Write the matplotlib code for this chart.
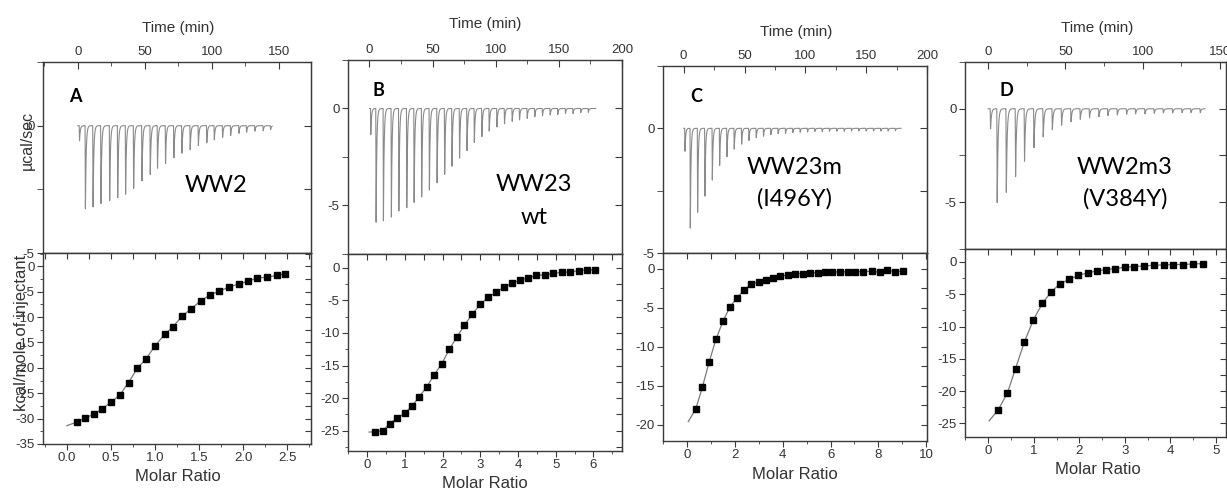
import numpy as np
import matplotlib
matplotlib.use("Agg")
import matplotlib.pyplot as plt
from matplotlib.ticker import MultipleLocator, FormatStrFormatter

# ---------------- data ----------------
# raw thermograms: injection times (min) and peak depths (µcal/sec)
inj_time_A = [1.0, 5.4, 11.1, 17.0, 23.5, 29.5, 35.4, 41.4, 47.6, 53.8, 59.2, 65.2, 71.4,
              77.4, 83.6, 89.7, 96.0, 101.6, 107.8, 113.8, 120.0, 125.7, 131.9, 138.1, 143.6]
inj_peak_A = [0.6, 3.3, 3.25, 3.1, 3.0, 2.85, 2.7, 2.5, 2.2, 1.95, 1.7, 1.5, 1.3,
              1.1, 0.95, 0.8, 0.68, 0.56, 0.47, 0.39, 0.3, 0.26, 0.22, 0.2, 0.16]

inj_time_B = [0.8, 5.0, 10.8, 17.1, 23.0, 29.3, 35.1, 41.1, 47.2, 53.3, 59.3, 65.1, 71.1, 77.0, 82.8,
              88.8, 94.6, 100.7, 106.7, 112.8, 118.6, 124.7, 130.7, 136.8, 142.9, 148.9, 155.0,
              161.0, 167.1, 173.1]
inj_peak_B = [1.37, 5.94, 5.82, 5.65, 5.48, 5.26, 5.0, 4.7, 4.33, 3.9, 3.48, 3.03, 2.62, 2.19, 1.8,
              1.46, 1.2, 0.98, 0.82, 0.68, 0.6, 0.51, 0.43, 0.38, 0.34, 0.31, 0.26, 0.26, 0.22, 0.2]

inj_time_C = [0.8, 5.2, 11.2, 17.2, 23.3, 29.3, 35.3, 41.3, 47.4, 53.4, 59.4, 65.4, 71.4, 77.4, 83.5,
              89.5, 95.5, 101.6, 107.6, 113.6, 119.6, 125.6, 131.7, 137.7, 143.7, 149.7, 155.8,
              161.8, 167.8, 173.8]
inj_peak_C = [0.95, 4.03, 3.44, 2.76, 2.08, 1.52, 1.15, 0.85, 0.65, 0.49, 0.38, 0.32, 0.26, 0.22, 0.2,
              0.17, 0.16, 0.15, 0.13, 0.13, 0.12, 0.12, 0.12, 0.11, 0.11, 0.11, 0.11, 0.11, 0.11, 0.1]

inj_time_D = [1.3, 5.6, 11.5, 17.5, 23.3, 29.4, 35.4, 41.3, 47.3, 53.4, 59.4, 65.4, 71.5, 77.3, 83.4,
              89.4, 95.2, 101.3, 107.3, 113.2, 119.2, 125.3, 131.1, 137.1]
inj_peak_D = [1.1, 5.02, 4.49, 3.72, 2.87, 2.09, 1.54, 1.15, 0.89, 0.71, 0.57, 0.48, 0.43, 0.37, 0.34,
              0.3, 0.28, 0.27, 0.25, 0.23, 0.23, 0.21, 0.21, 0.21]

run_end = {"A": 145.0, "B": 179.2, "C": 178.6, "D": 140.4}

# integrated heats: molar ratio and kcal/mole of injectant
ratio_A = [0.11, 0.21, 0.31, 0.40, 0.50, 0.60, 0.70, 0.80, 0.90, 1.00, 1.11, 1.20, 1.31, 1.41,
           1.52, 1.62, 1.73, 1.84, 1.95, 2.05, 2.16, 2.27, 2.38, 2.48]
heat_A = [-30.7, -29.9, -29.1, -28.1, -26.8, -25.4, -22.9, -20.1, -18.2, -15.7, -13.4, -12.0, -9.8,
          -8.4, -6.8, -5.7, -4.9, -4.1, -3.5, -3.0, -2.3, -2.2, -1.8, -1.5]

ratio_B = [0.20, 0.41, 0.60, 0.80, 1.00, 1.19, 1.38, 1.58, 1.77, 1.98, 2.18, 2.37, 2.58, 2.79, 3.00,
           3.21, 3.42, 3.63, 3.84, 4.05, 4.27, 4.49, 4.72, 4.94, 5.16, 5.38, 5.61, 5.82, 6.04]
heat_B = [-25.15, -25.0, -23.9, -23.0, -22.3, -21.2, -19.8, -18.25, -16.5, -14.7, -12.5, -10.7, -8.8,
          -7.1, -5.6, -4.55, -3.73, -3.0, -2.4, -1.9, -1.53, -1.18, -1.07, -0.87, -0.72, -0.66,
          -0.46, -0.36, -0.31]

ratio_C = [0.35, 0.63, 0.91, 1.20, 1.50, 1.79, 2.08, 2.39, 2.68, 2.99, 3.29, 3.59, 3.89, 4.20, 4.51,
           4.83, 5.14, 5.46, 5.77, 6.08, 6.40, 6.72, 7.03, 7.35, 7.72, 8.06, 8.38, 8.71, 9.05]
heat_C = [-18.0, -15.2, -12.0, -9.06, -6.67, -4.91, -3.72, -2.69, -2.0, -1.71, -1.41, -1.2, -0.98,
          -0.81, -0.68, -0.64, -0.56, -0.51, -0.47, -0.43, -0.43, -0.38, -0.38, -0.38, -0.34,
          -0.48, -0.22, -0.38, -0.3]

ratio_D = [0.22, 0.42, 0.60, 0.79, 0.99, 1.19, 1.38, 1.58, 1.78, 1.98, 2.18, 2.38, 2.59, 2.79, 3.00,
           3.21, 3.42, 3.63, 3.85, 4.06, 4.28, 4.49, 4.71]
heat_D = [-22.9, -20.3, -16.5, -12.45, -8.99, -6.4, -4.65, -3.36, -2.69, -2.07, -1.7, -1.39, -1.19,
          -1.03, -0.83, -0.72, -0.62, -0.52, -0.46, -0.41, -0.41, -0.31, -0.26]

# start of the fitted binding curve (molar ratio, kcal/mol)
fit_start = {"A": (0.0, -31.4), "B": (0.05, -25.2), "C": (0.04, -19.6), "D": (0.02, -24.6)}

panel_letters = ["A", "B", "C", "D"]
construct_names = [["WW2"], ["WW23", "wt"], ["WW23m", "(I496Y)"], ["WW2m3", "(V384Y)"]]

# ---------------- layout & style ----------------
W, H = 1227, 490
plt.rcParams["axes.unicode_minus"] = False
plt.rcParams["font.family"] = ["Liberation Sans", "DejaVu Sans"]

fig = plt.figure(figsize=(W / 100, H / 100), dpi=100)


def rect(l, r, t, b):
    return [l / W, 1 - b / H, (r - l) / W, (b - t) / H]


def fpos(x, y):
    return x / W, 1 - y / H


AX_COL = "#3a3a3a"
TXT_COL = "#333333"

layout = {
    "A": dict(box=(43, 311, 62, 253, 444), tlim=(-26, 174), uylim=(-5, 2.5),
              xlim=(-0.27, 2.77), ylim=(-35, 2.6), xmaj=0.5, xmin=0.25, xfmt="%.1f",
              letter=(75, 96), name=[(216, 185)], tlabel=(178, 28), xlabel=(178, 476)),
    "B": dict(box=(348, 622, 60, 254, 451), tlim=(-17, 200), uylim=(-7.5, 2.5),
              xlim=(-0.51, 6.76), ylim=(-28.1, 2.1), xmaj=1, xmin=0.5, xfmt="%d",
              letter=(378, 91), name=[(534, 184), (534, 217)], tlabel=(485, 24),
              xlabel=(485, 483)),
    "C": dict(box=(663, 927, 66, 253, 441), tlim=(-17, 200), uylim=(-5, 2.5),
              xlim=(-1.02, 10.04), ylim=(-22.1, 2.0), xmaj=2, xmin=1, xfmt="%d",
              letter=(696, 96), name=[(795, 168), (795, 199)], tlabel=(796, 32),
              xlabel=(795, 474)),
    "D": dict(box=(965, 1226, 62, 249, 437), tlim=(-15, 154), uylim=(-7.5, 2.5),
              xlim=(-0.51, 5.22), ylim=(-27.1, 2.0), xmaj=1, xmin=0.5, xfmt="%d",
              letter=(1006, 91), name=[(1125, 167), (1125, 199)], tlabel=(1097, 28),
              xlabel=(1098, 469)),
}

thermo = {"A": (inj_time_A, inj_peak_A), "B": (inj_time_B, inj_peak_B),
          "C": (inj_time_C, inj_peak_C), "D": (inj_time_D, inj_peak_D)}
binding = {"A": (ratio_A, heat_A), "B": (ratio_B, heat_B),
           "C": (ratio_C, heat_C), "D": (ratio_D, heat_D)}


def style_axes(ax):
    for s in ax.spines.values():
        s.set_color(AX_COL)
        s.set_linewidth(1.0)


def thermogram(times, peaks, t_end):
    # baseline with sharp exothermic spikes that relax back quickly
    t = np.linspace(0, t_end, 6000)
    y = np.zeros_like(t)
    for t0, p in zip(times, peaks):
        dt = t - t0
        drop = (dt >= 0) & (dt < 0.25)
        y[drop] -= p * dt[drop] / 0.25
        rel = dt >= 0.25
        y[rel] -= p * np.exp(-(dt[rel] - 0.25) / 0.55)
    return t, y


for key, letter, name in zip(["A", "B", "C", "D"], panel_letters, construct_names):
    L = layout[key]
    l, r, t, m, b = L["box"]

    # ---- upper: raw heat rate vs time ----
    up = fig.add_axes(rect(l, r, t, m))
    style_axes(up)
    tt, yy = thermogram(*thermo[key], run_end[key])
    up.plot(tt, yy, color="#8a8a8a", lw=0.8)
    up.set_xlim(*L["tlim"])
    up.set_ylim(*L["uylim"])
    up.xaxis.tick_top()
    up.xaxis.set_major_locator(MultipleLocator(50))
    up.xaxis.set_minor_locator(MultipleLocator(25))
    up.yaxis.set_major_locator(MultipleLocator(5))
    up.yaxis.set_minor_locator(MultipleLocator(2.5))
    up.tick_params(axis="x", which="both", direction="in", top=True, bottom=False,
                   colors=AX_COL, labelcolor=TXT_COL, labelsize=9.5, pad=3)
    up.tick_params(axis="x", which="major", length=5)
    up.tick_params(axis="x", which="minor", length=3)
    up.tick_params(axis="y", which="both", direction="out", left=True, right=False,
                   colors=AX_COL, labelcolor=TXT_COL, labelsize=9.5, pad=2, length=4)
    up.yaxis.set_major_formatter(FormatStrFormatter("%d"))
    ur = up.secondary_yaxis("right")
    ur.yaxis.set_major_locator(MultipleLocator(2.5))
    ur.tick_params(direction="in", length=5, colors=AX_COL, labelright=False)
    ur.spines["right"].set_color(AX_COL)

    # ---- lower: integrated heats vs molar ratio ----
    lo = fig.add_axes(rect(l, r, m, b))
    style_axes(lo)
    xs, ys = binding[key]
    fx, fy = fit_start[key]
    lo.plot([fx] + list(xs), [fy] + list(ys), color="#7a7a7a", lw=0.9, zorder=2)
    lo.plot(xs, ys, "s", color="black", ms=5, zorder=3)
    lo.set_xlim(*L["xlim"])
    lo.set_ylim(*L["ylim"])
    lo.xaxis.set_major_locator(MultipleLocator(L["xmaj"]))
    lo.xaxis.set_minor_locator(MultipleLocator(L["xmin"]))
    lo.xaxis.set_major_formatter(FormatStrFormatter(L["xfmt"]))
    lo.yaxis.set_major_locator(MultipleLocator(5))
    lo.yaxis.set_minor_locator(MultipleLocator(2.5))
    lo.yaxis.set_major_formatter(FormatStrFormatter("%d"))
    lo.tick_params(axis="both", which="both", direction="out", colors=AX_COL,
                   labelcolor=TXT_COL, labelsize=9.5, pad=2)
    lo.tick_params(axis="both", which="major", length=4)
    lo.tick_params(axis="both", which="minor", length=2.5)
    lt = lo.secondary_xaxis("top")
    lt.xaxis.set_major_locator(MultipleLocator(L["xmin"]))
    lt.tick_params(direction="in", length=4, colors=AX_COL, labeltop=False)
    lt.spines["top"].set_color(AX_COL)
    lr = lo.secondary_yaxis("right")
    lr.yaxis.set_major_locator(MultipleLocator(2.5))
    lr.tick_params(direction="in", length=4, colors=AX_COL, labelright=False)
    lr.spines["right"].set_color(AX_COL)

    # ---- labels ----
    fig.text(*fpos(*L["tlabel"]), "Time (min)", ha="center", va="center",
             fontsize=11, color=TXT_COL)
    fig.text(*fpos(*L["xlabel"]), "Molar Ratio", ha="center", va="center",
             fontsize=12, color=TXT_COL)
    fig.text(*fpos(*L["letter"]), letter, ha="center", va="center", fontsize=13,
             fontweight="bold", family="Lato", color="black")
    for line, pos in zip(name, L["name"]):
        fig.text(*fpos(*pos), line, ha="center", va="center", fontsize=17,
                 family="Lato", color="black")

fig.text(*fpos(27, 140), "µcal/sec", rotation=90, ha="center", va="center",
         fontsize=11.5, color=TXT_COL)
fig.text(*fpos(22, 333), "kcal/mole of injectant", rotation=90, ha="center", va="center",
         fontsize=12, color=TXT_COL)

fig.savefig("out.png", dpi=100, facecolor="white")
